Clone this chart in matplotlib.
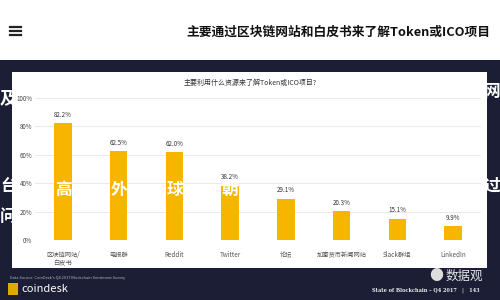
import matplotlib.pyplot as plt
from matplotlib.patches import Rectangle
from matplotlib.lines import Line2D

plt.rcParams['font.family'] = ['Noto Sans CJK SC', 'DejaVu Sans']

# 数据
categories = ['区块链网站/\n白皮书', '电报群', 'Reddit', 'Twitter', '论坛',
              '加密货币新闻网站', 'Slack群组', 'LinkedIn']
values = [82.2, 62.5, 62.0, 38.2, 29.1, 20.3, 15.1, 9.9]
yticks = [0, 20, 40, 60, 80, 100]

header = '主要通过区块链网站和白皮书来了解Token或ICO项目'
chart_title = '主要利用什么资源来了解Token或ICO项目?'

W, H = 500, 300
fig = plt.figure(figsize=(5, 3), dpi=100)
fig.patch.set_facecolor('white')

def fx(x):
    return x / W

def fy(y):
    return 1 - y / H

navy = '#1b1e34'
# 深色背景区域 + 白色面板
fig.patches.append(Rectangle((0, 0), 1, fy(60), transform=fig.transFigure,
                             facecolor=navy, edgecolor='none', zorder=-2))
fig.patches.append(Rectangle((fx(12), fy(268)), fx(475), (268 - 72) / H,
                             transform=fig.transFigure, facecolor='white',
                             edgecolor='none', zorder=-1))

# 顶部标题栏
for yy in (27, 31, 35):
    fig.lines.append(Line2D([fx(10), fx(21)], [fy(yy), fy(yy)], transform=fig.transFigure,
                            color='#222222', lw=1.6))
fig.text(fx(490), fy(32), header, ha='right', va='center', fontsize=9.2,
         fontweight='bold', color='#111111')

# 柱状图
ax = fig.add_axes([fx(35), fy(240), fx(446), (240 - 98) / H])
ax.set_facecolor('none')
x = range(len(values))
ax.bar(x, values, width=0.31, color='#f7b500', zorder=2)
for xi, v in zip(x, values):
    ax.text(xi, v + 3, f'{v:.1f}%', ha='center', va='bottom', fontsize=4.5,
            color='#333333', clip_on=False)
ax.set_xlim(-0.5, len(values) - 0.5)
ax.set_ylim(0, 100)
ax.set_yticks(yticks)
ax.set_yticklabels([f'{t}%' for t in yticks])
ax.yaxis.grid(True, color='#e6e6e6', lw=0.6, zorder=0)
ax.set_axisbelow(True)
ax.tick_params(axis='y', length=0, labelsize=4.5, labelcolor='#444444', pad=2)
ax.set_xticks(list(x))
ax.set_xticklabels(categories, linespacing=1.1)
ax.tick_params(axis='x', length=0, labelsize=4.5, labelcolor='#555555', pad=8)
for s in ax.spines.values():
    s.set_visible(False)

fig.text(0.5, fy(83), chart_title, ha='center', va='center', fontsize=5,
         color='#333333')

# 底部信息
fig.text(fx(10), fy(278), "Data Source: CoinDesk's Q4 2017 Blockchain Sentiment Survey",
         ha='left', va='center', fontsize=2.8, color='#bbbbbb')
fig.patches.append(Rectangle((fx(8), fy(295)), fx(10), 12 / H, transform=fig.transFigure,
                             facecolor='#e0a800', edgecolor='none'))
fig.text(fx(21), fy(289), 'coindesk', ha='left', va='center', fontsize=8,
         color='white')
fig.text(fx(446), fy(276), '数据观', ha='left', va='center', fontsize=9,
         color='#e8e8e8')
fig.text(fx(436), fy(276), '●', ha='center', va='center', fontsize=10,
         color='#dddddd')
fig.text(fx(479), fy(290), 'State of Blockchain – Q4 2017   |   143', ha='right',
         va='center', fontsize=3.6, color='#eeeeee', family='DejaVu Serif',
         fontweight='bold')

# 白色字幕覆盖
for cx, cy, ch, ha in [(0, 98, '及', 'left'), (500, 92, '网', 'right'),
                       (0, 186, '台', 'left'), (500, 186, '过', 'right'),
                       (0, 217, '问', 'left'), (63, 190, '高', 'center'),
                       (119, 190, '外', 'center'), (175, 190, '球', 'center'),
                       (230, 190, '朝', 'center')]:
    fig.text(fx(cx), fy(cy), ch, ha=ha, va='center', fontsize=12,
             fontweight='bold', color='white', zorder=5)

fig.savefig('out.png', dpi=100)
